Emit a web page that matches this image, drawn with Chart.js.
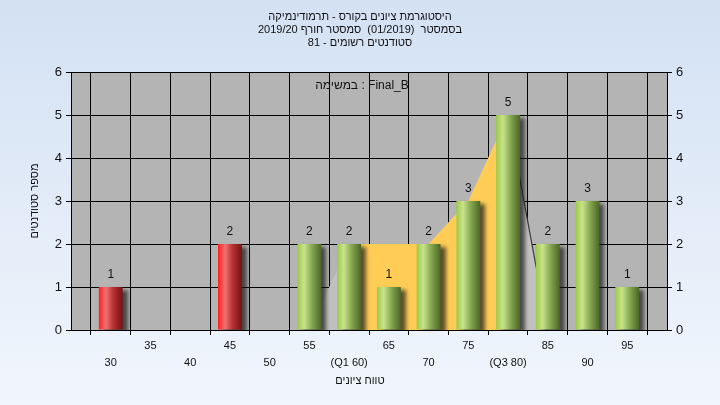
<!DOCTYPE html>
<html>
<head>
<meta charset="utf-8">
<title>היסטוגרמת ציונים</title>
<script src="https://cdn.jsdelivr.net/npm/chart.js@4.4.1/dist/chart.umd.min.js"></script>
<style>
  html, body { margin: 0; padding: 0; background: #fff; }
  #histChart { display: block; }
</style>
</head>
<body>
<canvas id="histChart" width="720" height="405"></canvas>
<script>
// axis runs from 25 to 100, bars sit on 30..95
var axisBins = ['25', '30', '35', '40', '45', '50', '55', '60', '65', '70', '75', '80', '85', '90', '95', '100'];
var gradeBins = ['30', '35', '40', '45', '50', '55', '60', '65', '70', '75', '80', '85', '90', '95'];
var studentCounts = [1, 0, 0, 2, 0, 2, 2, 1, 2, 3, 5, 2, 3, 1];
var passGrade = 55;
var q1Bin = '60';
var q3Bin = '80';

// yellow band between the quartiles
var iqrBins = ['60', '65', '70', '75', '80'];
var iqrValues = [2, 2, 2, 3, 5];

// light grey curve behind it
var curveBins = ['55', '60', '65', '70', '75', '80', '85'];
var curveValues = [0, 2, 2, 2, 3, 5, 0];

var titleLines = [
  'היסטוגרמת ציונים בקורס - תרמודינמיקה',
  'בסמסטר  (01/2019)  סמסטר חורף 2019/20',
  'סטודנטים רשומים - 81'
];
var taskLabel = 'במשימה : Final_B';
var xTitle = 'טווח ציונים';
var yTitle = 'מספר סטודנטים';

var FONT = '"Liberation Sans", "DejaVu Sans", Arial, sans-serif';

function pairs(bins, vals) {
  return bins.map(function (b, i) { return { x: b, y: vals[i] }; });
}

// cylinder look for the bars
function barFill(ctx) {
  var chart = ctx.chart;
  var xs = chart.scales.x;
  var bin = gradeBins[ctx.dataIndex];
  var red = Number(bin) < passGrade;
  var flat = red ? '#d22' : '#8fb84a';
  if (!xs || ctx.type !== 'data') return flat;
  var cx = xs.getPixelForValue(axisBins.indexOf(bin));
  if (!isFinite(cx)) return flat;
  var g = chart.ctx.createLinearGradient(cx - 12, 0, cx + 12, 0);
  if (red) {
    g.addColorStop(0, '#ff1e1e');
    g.addColorStop(0.3, '#f07272');
    g.addColorStop(0.6, '#b83232');
    g.addColorStop(1, '#741212');
  } else {
    g.addColorStop(0, '#9cc944');
    g.addColorStop(0.28, '#c9e38c');
    g.addColorStop(0.6, '#86a852');
    g.addColorStop(1, '#4b6625');
  }
  return g;
}

var backdrop = {
  id: 'backdrop',
  beforeDraw: function (chart) {
    var c = chart.ctx, a = chart.chartArea;
    c.save();
    var g = c.createLinearGradient(0, 0, 0, chart.height);
    g.addColorStop(0, '#d3e1f3');
    g.addColorStop(1, '#f1f6fd');
    c.fillStyle = g;
    c.fillRect(0, 0, chart.width, chart.height);
    c.fillStyle = '#b4b4b4';
    c.fillRect(a.left, a.top, a.right - a.left, a.bottom - a.top);
    c.restore();
  }
};

var barShadow = {
  id: 'barShadow',
  beforeDatasetDraw: function (chart, args) {
    if (args.meta.type !== 'bar') return;
    var c = chart.ctx;
    c.save();
    c.shadowColor = 'rgba(25,25,25,0.7)';
    c.shadowBlur = 4;
    c.shadowOffsetX = 5;
    c.shadowOffsetY = 3;
  },
  afterDatasetDraw: function (chart, args) {
    if (args.meta.type !== 'bar') return;
    chart.ctx.restore();
  }
};

var chartTexts = {
  id: 'chartTexts',
  afterDraw: function (chart) {
    var c = chart.ctx, a = chart.chartArea;
    c.save();
    c.fillStyle = '#111';
    c.textAlign = 'center';
    c.textBaseline = 'middle';
    c.font = '11px ' + FONT;
    titleLines.forEach(function (t, i) {
      c.fillText(t, 360, 17 + i * 13);
    });
    c.font = '12px ' + FONT;
    c.fillText(taskLabel, 362, 86);
    c.font = '11px ' + FONT;
    c.fillText(xTitle, 360, 381);
    c.save();
    c.translate(35, (a.top + a.bottom) / 2);
    c.rotate(-Math.PI / 2);
    c.fillText(yTitle, 0, 0);
    c.restore();

    // counts above the bars
    c.font = '12px ' + FONT;
    var meta = chart.getDatasetMeta(0);
    meta.data.forEach(function (bar, i) {
      if (!studentCounts[i]) return;
      c.fillText(String(studentCounts[i]), bar.x, bar.y - 12);
    });
    c.restore();
  }
};

var histChart = new Chart(document.getElementById('histChart'), {
  type: 'bar',
  data: {
    datasets: [{
      label: 'סטודנטים',
      data: pairs(gradeBins, studentCounts),
      backgroundColor: barFill,
      borderWidth: 0,
      barPercentage: 0.6,
      categoryPercentage: 1,
      order: 0
    }, {
      type: 'line',
      data: pairs(iqrBins, iqrValues),
      backgroundColor: '#ffcc55',
      borderWidth: 0,
      pointRadius: 0,
      fill: 'origin',
      tension: 0,
      order: 1
    }, {
      type: 'line',
      data: pairs(curveBins, curveValues),
      backgroundColor: '#c0c0c0',
      borderWidth: 1.2,
      segment: {
        borderColor: function (ctx) { return ctx.p0DataIndex === 5 ? '#3a3a3a' : 'rgba(0,0,0,0)'; }
      },
      pointRadius: 0,
      fill: 'origin',
      tension: 0,
      order: 2
    }]
  },
  options: {
    responsive: false,
    animation: false,
    devicePixelRatio: 1,
    layout: { padding: { top: 72, left: 0, right: 0, bottom: 0 } },
    plugins: {
      legend: { display: false },
      title: { display: false },
      tooltip: { enabled: false }
    },
    scales: {
      x: {
        type: 'category',
        labels: axisBins,
        offset: false,
        grid: { color: '#000', lineWidth: 1, tickLength: 5, tickColor: '#000' },
        border: { color: '#000', width: 1 },
        ticks: {
          autoSkip: false,
          maxRotation: 0,
          padding: 2,
          color: '#111',
          font: { family: FONT, size: 11, lineHeight: 1.55 },
          callback: function (val, idx) {
            if (idx === 0 || idx === axisBins.length - 1) return '';
            var lab = axisBins[idx];
            var txt = lab;
            if (lab === q1Bin) txt = '(Q1 ' + lab + ')';
            if (lab === q3Bin) txt = '(Q3 ' + lab + ')';
            return Number(lab) % 10 === 0 ? ['', txt] : txt;
          }
        },
        afterFit: function (s) { s.height = 75; }
      },
      y: {
        position: 'left',
        min: 0,
        max: 6,
        grid: { color: '#000', lineWidth: 1, tickLength: 5, tickColor: '#000' },
        border: { color: '#000', width: 1 },
        ticks: { stepSize: 1, padding: 4, color: '#111', font: { family: FONT, size: 13 } },
        afterFit: function (s) { s.width = 71; }
      },
      y2: {
        position: 'right',
        min: 0,
        max: 6,
        grid: { drawOnChartArea: false, color: '#000', tickLength: 5, tickColor: '#000' },
        border: { color: '#000', width: 1 },
        ticks: { stepSize: 1, padding: 4, color: '#111', font: { family: FONT, size: 13 } },
        afterFit: function (s) { s.width = 53; }
      }
    }
  },
  plugins: [backdrop, barShadow, chartTexts]
});
histChart.update();
</script>
</body>
</html>
